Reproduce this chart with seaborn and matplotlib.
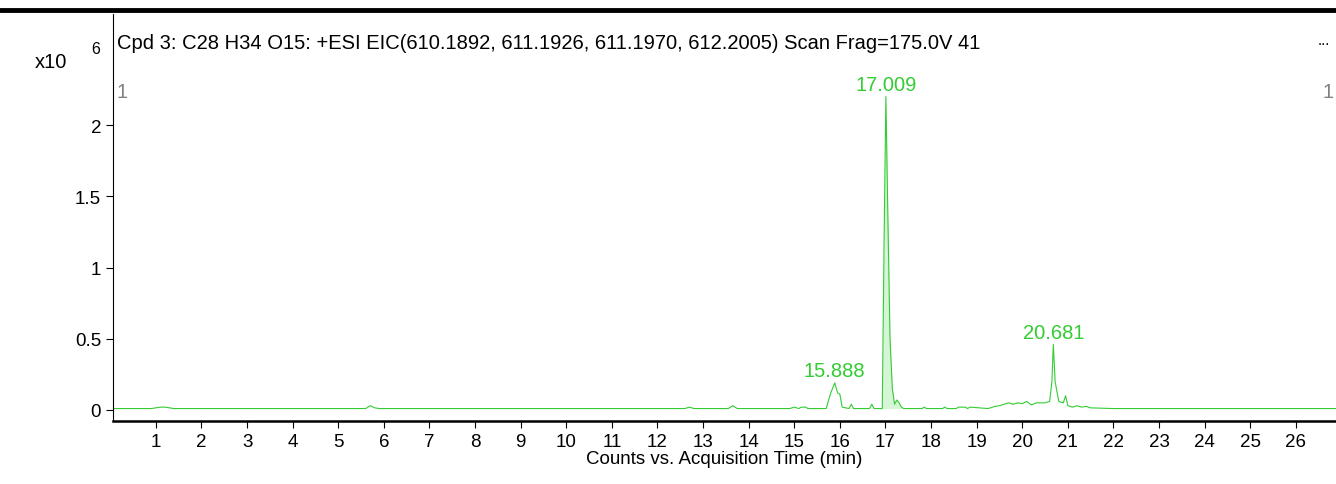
import numpy as np
import matplotlib
matplotlib.use("Agg")
import matplotlib.pyplot as plt
import seaborn as sns

# chromatogram trace (min, counts x10^6)
times = [0.06, 0.9, 1.0, 1.1, 1.2, 1.3, 1.4, 5.6, 5.7, 5.8, 5.9, 12.6, 12.7, 12.8, 13.55, 13.65, 13.75,
         14.9, 15.0, 15.1, 15.15, 15.25, 15.3, 15.7, 15.8, 15.888, 15.95, 16.0, 16.05, 16.2, 16.25, 16.3,
         16.65, 16.7, 16.75, 16.93, 16.97, 17.009, 17.05, 17.1, 17.15, 17.2, 17.25, 17.3, 17.35, 17.4,
         17.8, 17.85, 17.9, 18.25, 18.3, 18.35, 18.55, 18.6, 18.75, 18.8, 18.85, 19.25, 19.4, 19.5, 19.6,
         19.7, 19.8, 19.9, 20.0, 20.1, 20.2, 20.3, 20.5, 20.6, 20.65, 20.681, 20.72, 20.8, 20.9, 20.95,
         21.0, 21.1, 21.2, 21.3, 21.4, 21.5, 22.0, 22.1, 26.9]
counts = [0.01, 0.01, 0.015, 0.02, 0.02, 0.015, 0.01, 0.01, 0.03, 0.015, 0.01, 0.01, 0.02, 0.01, 0.01, 0.03, 0.01,
          0.01, 0.02, 0.01, 0.02, 0.02, 0.01, 0.01, 0.12, 0.19, 0.12, 0.11, 0.02, 0.01, 0.04, 0.01,
          0.01, 0.04, 0.01, 0.01, 1.2, 2.2, 1.4, 0.5, 0.15, 0.04, 0.07, 0.05, 0.02, 0.01,
          0.01, 0.02, 0.01, 0.01, 0.02, 0.01, 0.01, 0.02, 0.02, 0.01, 0.02, 0.01, 0.025, 0.03, 0.04,
          0.05, 0.04, 0.05, 0.045, 0.06, 0.035, 0.05, 0.05, 0.06, 0.2, 0.46, 0.2, 0.06, 0.05, 0.1,
          0.03, 0.02, 0.03, 0.02, 0.025, 0.015, 0.01, 0.01, 0.01]
peak_rt = [15.888, 17.009, 20.681]
peak_h = [0.19, 2.2, 0.46]
green = "#33cc33"

sns.set_style("ticks", {"axes.edgecolor": "black", "xtick.color": "black", "ytick.color": "black",
                        "text.color": "black", "axes.labelcolor": "black"})
plt.rcParams["font.family"] = ["Liberation Sans", "DejaVu Sans"]

fig = plt.figure(figsize=(13.36, 4.85), dpi=100)
# axes from y=15px to y=422px
ax = fig.add_axes([0.0846, 0.13, 0.9154, 0.839])
sns.lineplot(x=times, y=counts, ax=ax, color=green, lw=0.8)
t = np.array(times); c = np.array(counts)
m = (t >= 16.93) & (t <= 17.35)
ax.fill_between(t[m], 0.01, c[m], color=green, alpha=0.2, lw=0)
for rt, h in zip(peak_rt, peak_h):
    ax.text(rt, h + 0.02, f"{rt:.3f}", color=green, ha="center", va="bottom", fontsize=14.5)

ax.set_xlim(0.06, 26.88)
ax.set_ylim(-0.077, 2.78)
ax.set_xticks(range(1, 27))
ax.set_yticks([0, 0.5, 1, 1.5, 2])
ax.set_yticklabels(["0", "0.5", "1", "1.5", "2"])
ax.tick_params(labelsize=13.5, length=5, color="black", labelcolor="black")
ax.set_xlabel("Counts vs. Acquisition Time (min)", fontsize=13.5, labelpad=0, color="black")
for s in ["top", "right"]:
    ax.spines[s].set_visible(False)
ax.spines["bottom"].set_linewidth(1.8)
ax.text(0.003, 0.93, "Cpd 3: C28 H34 O15: +ESI EIC(610.1892, 611.1926, 611.1970, 612.2005) Scan Frag=175.0V 41",
        transform=ax.transAxes, fontsize=14.5, va="center")
ax.text(0.003, 0.81, "1", color="gray", transform=ax.transAxes, fontsize=14.5, va="center")
ax.text(0.998, 0.81, "1", color="gray", transform=ax.transAxes, fontsize=14.5, va="center", ha="right")
ax.text(0.985, 0.935, "...", transform=ax.transAxes, fontsize=11, va="center")
fig.text(0.026, 0.872, "x10", fontsize=14.5, va="center")
fig.text(0.068, 0.897, "6", fontsize=11.5, va="center")
fig.add_artist(plt.Line2D([0, 1], [0.977, 0.977], color="black", lw=3.5))
fig.savefig("out.png", dpi=100)
